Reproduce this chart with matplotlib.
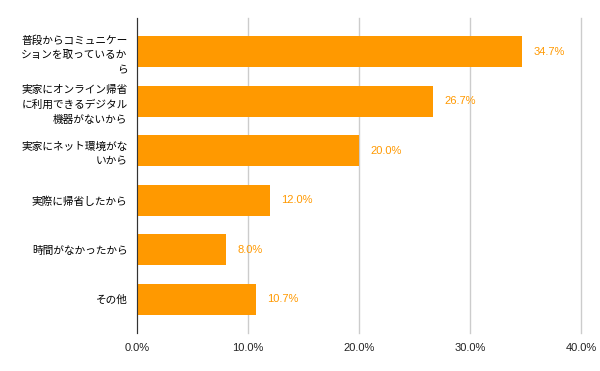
import matplotlib
matplotlib.use("Agg")
import matplotlib.pyplot as plt

plt.rcParams['font.family'] = ['Noto Sans CJK JP', 'DejaVu Sans']

# survey answers (percent)
categories = [
    "普段からコミュニケー\nションを取っているか\nら",
    "実家にオンライン帰省\nに利用できるデジタル\n機器がないから",
    "実家にネット環境がな\nいから",
    "実際に帰省したから",
    "時間がなかったから",
    "その他",
]
values = [34.7, 26.7, 20.0, 12.0, 8.0, 10.7]
xticks = [0, 10, 20, 30, 40]

bar_color = "#ff9900"

fig = plt.figure(figsize=(6, 3.71), dpi=100)
ax = fig.add_axes([0.2288, 0.1024, 0.7395, 0.8491])

ypos = list(range(len(categories)))
ax.barh(ypos, values, height=0.63, color=bar_color, zorder=3)

for y, v in zip(ypos, values):
    ax.text(v + 1.0, y, f"{v:.1f}%", va="center", ha="left",
            color=bar_color, fontsize=8, family=["Liberation Sans", "DejaVu Sans"])

ax.set_ylim(5.68, -0.68)
ax.set_xlim(0, 40)
ax.set_yticks(ypos)
ax.set_yticklabels(categories, fontsize=7.7, linespacing=1.6)
ax.set_xticks(xticks)
ax.set_xticklabels([f"{t:.1f}%" for t in xticks], fontsize=8,
                   family=["Liberation Sans", "DejaVu Sans"], color="#222222")

ax.grid(axis="x", color="#cccccc", linewidth=1, zorder=0)
for gl in ax.get_xgridlines():
    gl.set_clip_on(False)
ax.tick_params(axis="both", length=0)
ax.tick_params(axis="y", pad=7)
ax.tick_params(axis="x", pad=7)
for s in ["top", "right", "bottom"]:
    ax.spines[s].set_visible(False)
ax.spines["left"].set_color("#333333")
ax.spines["left"].set_zorder(4)

fig.savefig("out.png", dpi=100)
